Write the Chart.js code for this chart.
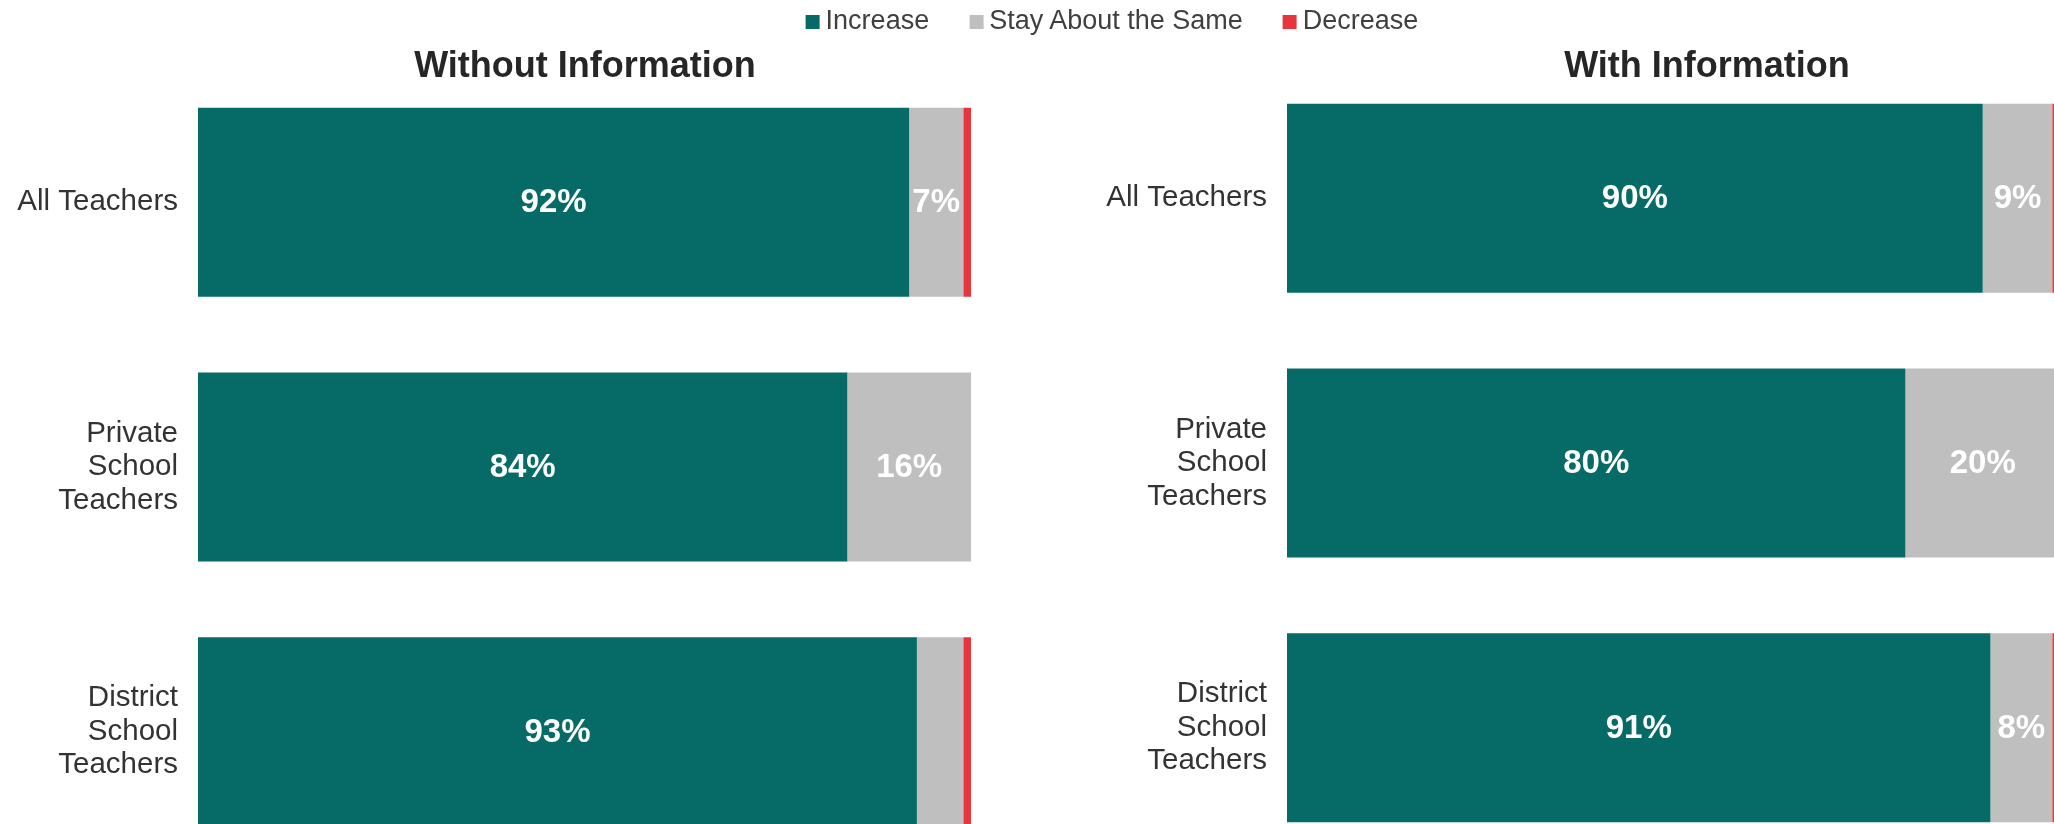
<!DOCTYPE html>
<html>
<head>
<meta charset="utf-8">
<script src="https://cdn.jsdelivr.net/npm/chart.js@4.4.1/dist/chart.umd.min.js"></script>
<style>
  html, body { margin: 0; padding: 0; background: #fff; overflow: hidden; }
  #page { position: relative; width: 2054px; height: 824px; overflow: hidden; font-family: 'Liberation Sans', Arial, sans-serif; }
  canvas { position: absolute; }
  #leftChart { left: 0; top: 0; }
  #rightChart { left: 1089px; top: -4px; }
  .title { position: absolute; top: 44px; font-weight: bold; font-size: 36px; color: #262626; transform: translateX(-50%); white-space: nowrap; z-index: 2; }
  #legend { position: absolute; top: 5px; left: 1112px; transform: translateX(-50%); display: flex; align-items: center; gap: 40px; font-size: 27px; color: #404040; white-space: nowrap; z-index: 2; }
  #legend span.sw { display: inline-block; width: 14px; height: 14px; margin-right: 6px; vertical-align: middle; }
</style>
</head>
<body>
<div id="page">
  <div id="legend"></div>
  <div class="title" style="left:585px">Without Information</div>
  <div class="title" style="left:1707px">With Information</div>
  <canvas id="leftChart" width="971" height="864"></canvas>
  <canvas id="rightChart" width="971" height="864"></canvas>
</div>
<script>
// categories and series
const categories = ['All Teachers', ['Private', 'School', 'Teachers'], ['District', 'School', 'Teachers']];
const seriesNames = ['Increase', 'Stay About the Same', 'Decrease'];
const seriesColors = ['#066B66', '#BFBFBF', '#E8353B'];

// Without Information
const withoutIncrease = [92, 84, 93];
const withoutSame = [7, 16, 6];
const withoutDecrease = [1, 0, 1];

// With Information
const withIncrease = [90, 80, 91];
const withSame = [9, 20, 8];
const withDecrease = [1, 0, 1];

const fontFamily = "'Liberation Sans', Arial, sans-serif";

// white percent labels inside the segments (small ones are skipped)
const barLabels = {
  id: 'barLabels',
  afterDatasetsDraw(chart) {
    const ctx = chart.ctx;
    ctx.save();
    ctx.font = 'bold 33px ' + fontFamily;
    ctx.fillStyle = '#ffffff';
    ctx.textAlign = 'center';
    ctx.textBaseline = 'middle';
    chart.data.datasets.forEach((ds, i) => {
      chart.getDatasetMeta(i).data.forEach((bar, j) => {
        const v = ds.data[j];
        if (v < 7) return;
        const p = bar.getProps(['x', 'y', 'base'], true);
        ctx.fillText(v + '%', (p.x + p.base) / 2, p.y + 1);
      });
    });
    ctx.restore();
  }
};

function createChart(id, series) {
  const ctx = document.getElementById(id).getContext('2d');
  return new Chart(ctx, {
    type: 'bar',
    data: {
      labels: categories,
      datasets: series.map((values, i) => ({
        label: seriesNames[i],
        data: values,
        backgroundColor: seriesColors[i],
        borderWidth: 0,
        barPercentage: 0.714,
        categoryPercentage: 1
      }))
    },
    options: {
      indexAxis: 'y',
      responsive: false,
      animation: false,
      layout: { padding: { top: 70, right: 0, bottom: 0, left: 0 } },
      plugins: {
        legend: { display: false },
        tooltip: { enabled: false }
      },
      scales: {
        x: { stacked: true, min: 0, max: 100, display: false },
        y: {
          stacked: true,
          grid: { display: false, drawTicks: false },
          border: { display: false },
          ticks: {
            color: '#333333',
            padding: 20,
            font: { size: 29.5, lineHeight: 1.14, family: fontFamily }
          },
          afterFit(scale) {
            scale.width = 198;
            scale.paddingTop = 0;
            scale.paddingBottom = 0;
          }
        }
      }
    },
    plugins: [barLabels]
  });
}

// html legend built from the series arrays
const legend = document.getElementById('legend');
seriesNames.forEach((name, i) => {
  const item = document.createElement('div');
  item.innerHTML = '<span class="sw" style="background:' + seriesColors[i] + '"></span>' + name;
  legend.appendChild(item);
});

createChart('leftChart', [withoutIncrease, withoutSame, withoutDecrease]);
createChart('rightChart', [withIncrease, withSame, withDecrease]);
</script>
</body>
</html>
